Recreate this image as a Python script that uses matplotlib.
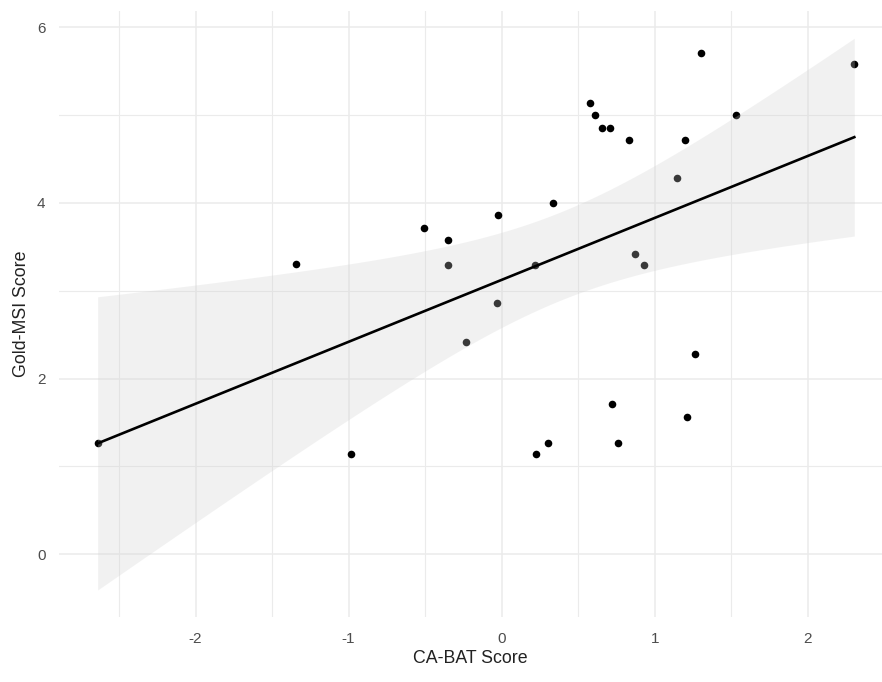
import numpy as np
import matplotlib
matplotlib.use("Agg")
import matplotlib.pyplot as plt
from matplotlib.ticker import MultipleLocator

plt.rcParams["font.family"] = ["Liberation Sans", "DejaVu Sans"]
plt.rcParams["axes.unicode_minus"] = False

# CA-BAT vs Gold-MSI scores per participant
ca_bat = [-2.64, -1.345, -0.987, -0.506, -0.351, -0.351, -0.233, -0.024, -0.033, 0.22,
          0.226, 0.303, 0.337, 0.577, 0.61, 0.656, 0.71, 0.719, 0.762, 0.83,
          0.873, 0.928, 1.146, 1.2, 1.211, 1.265, 1.30, 1.53, 2.305]
gold_msi = [1.27, 3.30, 1.14, 3.71, 3.58, 3.29, 2.42, 3.86, 2.855, 3.29,
            1.14, 1.27, 4.00, 5.14, 5.00, 4.85, 4.85, 1.71, 1.27, 4.72,
            3.42, 3.29, 4.28, 4.72, 1.56, 2.28, 5.71, 5.00, 5.58]

x = np.array(ca_bat)
y = np.array(gold_msi)

# linear fit with 95% confidence band
n = len(x)
slope, intercept = np.polyfit(x, y, 1)
resid = y - (slope * x + intercept)
s = np.sqrt(np.sum(resid ** 2) / (n - 2))
sxx = np.sum((x - x.mean()) ** 2)
t_crit = 2.052  # t(0.975, df=27)
xs = np.linspace(x.min(), x.max(), 200)
ys = slope * xs + intercept
se = s * np.sqrt(1 / n + (xs - x.mean()) ** 2 / sxx)

fig = plt.figure(figsize=(8.82, 6.82), dpi=100)
ax = fig.add_axes([0.0672, 0.0953, 0.9328, 0.889])

ax.scatter(x, y, s=30, color="black", zorder=2, linewidths=0)
ax.fill_between(xs, ys - t_crit * se, ys + t_crit * se, color="#cfcfcf", alpha=0.28,
                linewidth=0, zorder=3)
ax.plot(xs, ys, color="black", lw=1.9, zorder=4)

ax.set_xlim(-2.891, 2.486)
ax.set_ylim(-0.713, 6.187)
ax.xaxis.set_major_locator(MultipleLocator(1))
ax.xaxis.set_minor_locator(MultipleLocator(0.5))
ax.yaxis.set_major_locator(MultipleLocator(2))
ax.yaxis.set_minor_locator(MultipleLocator(1))
ax.grid(which="major", color="#ebebeb", lw=1.1)
ax.grid(which="minor", color="#ebebeb", lw=0.8)
ax.set_axisbelow(True)
for sp in ax.spines.values():
    sp.set_visible(False)
ax.tick_params(which="both", length=0, labelsize=11, labelcolor="#4d4d4d")
ax.tick_params(axis="x", pad=11)
ax.tick_params(axis="y", pad=10)

ax.set_xlabel("CA-BAT Score", fontsize=12.8, color="#222222", labelpad=3)
ax.set_ylabel("Gold-MSI Score", fontsize=12.8, color="#222222", labelpad=5)

fig.savefig("out.png", dpi=100)
